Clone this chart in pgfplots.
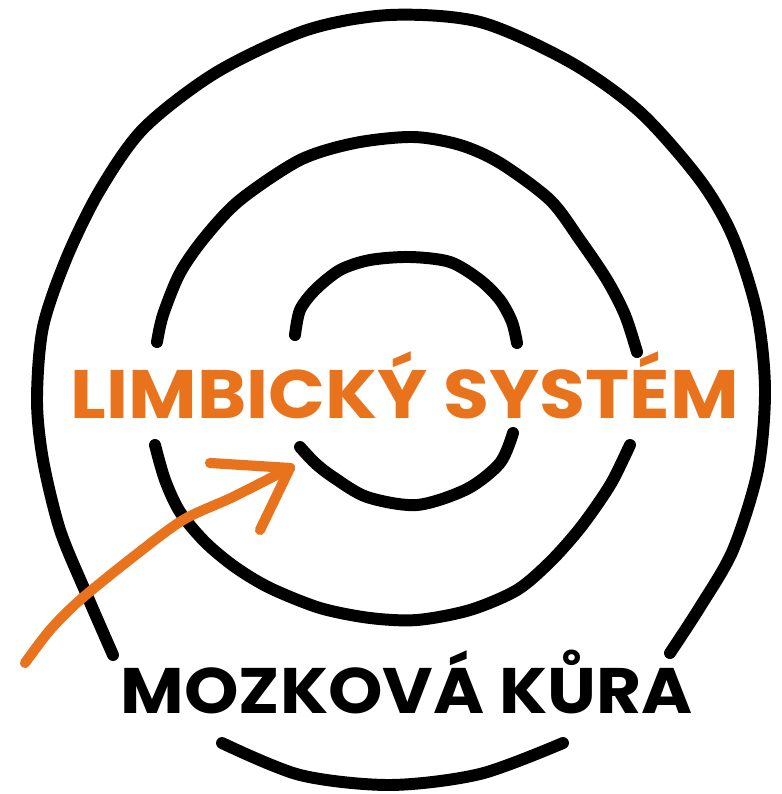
\documentclass[border=0pt]{standalone}
\usepackage{fontspec}
\setmainfont{Poppins}
\usepackage{pgfplots}
\pgfplotsset{compat=1.18}
\definecolor{brainorange}{RGB}{233,114,28}
\begin{document}
\begin{tikzpicture}
\begin{axis}[
  width=7.81cm, height=7.94cm, scale only axis, hide axis,
  xmin=0, xmax=781, ymin=0, ymax=794, y dir=reverse, clip=false,
  every axis plot/.append style={line cap=round, line join=round}
]
\path (rel axis cs:0,0) rectangle (rel axis cs:1,1);
% outer ring, main arc
\addplot[black, line width=3.4pt, smooth, tension=0.5] coordinates {
 (113,655) (86,593) (60,530) (43,460) (37,400) (43,327) (67,257) (100,190)
 (144,128) (217,72) (307,30) (390,15) (480,22) (570,62) (640,112) (700,180)
 (733,237) (757,313) (765,390) (758,470) (733,550) (700,607) (670,653)};
% outer ring, bottom arc
\addplot[black, line width=3.4pt, smooth, tension=0.5] coordinates {
 (222,743) (300,775) (390,785) (480,774) (563,743)};
% middle ring, upper arc
\addplot[black, line width=3.4pt, smooth, tension=0.5] coordinates {
 (157,342) (163,315) (180,273) (205,237) (240,200) (300,160) (355,143)
 (413,137) (460,145) (500,163) (550,200) (580,240) (607,280) (625,315) (637,352)};
% middle ring, lower arc
\addplot[black, line width=3.4pt, smooth, tension=0.5] coordinates {
 (155,445) (165,480) (180,512) (205,542) (235,567) (270,588) (320,608)
 (370,618) (417,620) (470,610) (517,590) (550,562) (577,532) (597,505) (613,480) (630,445)};
% inner ring, upper arc
\addplot[black, line width=3.4pt, smooth, tension=0.5] coordinates {
 (295,335) (300,310) (315,290) (340,270) (370,260) (410,257) (450,262)
 (480,280) (500,300) (512,322) (517,343)};
% inner ring, lower arc
\addplot[black, line width=3.4pt, smooth, tension=0.5] coordinates {
 (300,447) (315,463) (333,477) (367,497) (417,505) (467,489) (500,463) (513,433)};
% arrow
\addplot[brainorange, line width=2.9pt, smooth, tension=0.5] coordinates {
 (25,663) (50,630) (80,600) (133,557) (183,520) (233,497) (290,468)};
\addplot[brainorange, line width=2.9pt] coordinates {(210,463) (290,468) (260,530)};
% labels
\node[anchor=base west, inner sep=0pt, text=brainorange] at (axis cs:70,418)
  {\resizebox{66.8mm}{\height}{\fontsize{19.5}{20}\selectfont\bfseries LIMBICKÝ SYSTÉM}};
\node[anchor=base west, inner sep=0pt, text=black] at (axis cs:120,713)
  {\resizebox{57.2mm}{\height}{\fontsize{18.3}{19}\selectfont\bfseries MOZKOVÁ KŮRA}};
\end{axis}
\end{tikzpicture}
\end{document}
